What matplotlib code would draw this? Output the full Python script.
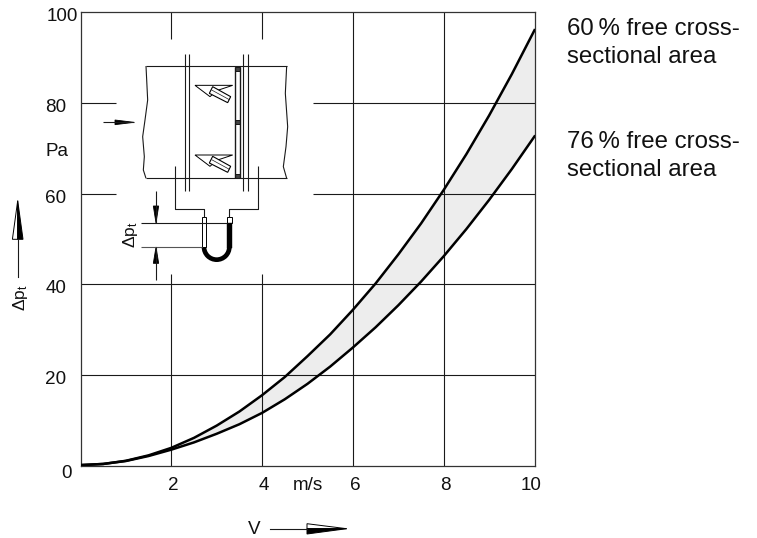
import matplotlib
matplotlib.use("Agg")
import matplotlib.pyplot as plt
from matplotlib.patches import Polygon, Rectangle, Wedge
from matplotlib.transforms import ScaledTranslation

plt.rcParams['font.family'] = ['Liberation Sans', 'DejaVu Sans']

velocity = [0, 0.5, 1, 1.5, 2, 2.5, 3, 3.5, 4, 4.5, 5, 5.5, 6, 6.5, 7, 7.5, 8, 8.5, 9, 9.5, 10]
dp_60 = [0.2, 0.45, 1.15, 2.35, 4, 6.2, 8.9, 12, 15.6, 19.6, 24.2, 29, 34.4, 40.2, 46.6, 53.4, 60.8, 68.7, 77.2, 86.3, 96]
dp_76 = [0.2, 0.45, 1.1, 2.2, 3.6, 5.2, 7.1, 9.2, 11.7, 14.7, 18.1, 21.9, 26.1, 30.55, 35.4, 40.6, 46.2, 52.2, 58.6, 65.4, 72.6]

x_ticks = [2, 4, 6, 8, 10]
y_ticks = [20, 40, 60, 80, 100]
label_60 = "60\u2009% free cross-\nsectional area"
label_76 = "76\u2009% free cross-\nsectional area"

W, H = 757, 538
DARK = '#1a1a1a'
TEXT = '#111111'
FS = 13.6

fig = plt.figure(figsize=(W / 100, H / 100), dpi=100)
ax = fig.add_axes([80.5 / W, 1 - 466 / H, 454 / W, 454 / H])
ax.set_xlim(0, 10)
ax.set_ylim(0, 100)

ax.fill_between(velocity, dp_76, dp_60, color='#ededed', lw=0, zorder=1)

# grid is broken around the damper sketch
for v in x_ticks[:2]:
    ax.vlines(v, 0, 42.3, color=DARK, lw=0.8, zorder=2)
    ax.vlines(v, 94, 100, color=DARK, lw=0.8, zorder=2)
for v in x_ticks[2:4]:
    ax.vlines(v, 0, 100, color=DARK, lw=0.8, zorder=2)
for v in y_ticks[:2]:
    ax.hlines(v, 0, 10, color=DARK, lw=0.8, zorder=2)
for v in y_ticks[2:4]:
    ax.hlines(v, 0, 0.78, color=DARK, lw=0.8, zorder=2)
    ax.hlines(v, 5.12, 10, color=DARK, lw=0.8, zorder=2)

ax.plot(velocity, dp_60, color='black', lw=1.8, zorder=3)
ax.plot(velocity, dp_76, color='black', lw=1.8, zorder=3)

for s in ax.spines.values():
    s.set_linewidth(0.9)
    s.set_color('#333333')

ax.set_xticks(x_ticks)
ax.set_yticks(y_ticks)
ax.tick_params(length=0, labelsize=FS, pad=0, colors=TEXT)
for lab, dx in zip(ax.get_xticklabels(), [2.5, 2, 2, 1.5, -3]):
    lab.set_transform(lab.get_transform() + ScaledTranslation(dx / 100, -10.5 / 100, fig.dpi_scale_trans))
for lab, dx in zip(ax.get_yticklabels(), [-14, -14, -14, -14, -3]):
    lab.set_transform(lab.get_transform() + ScaledTranslation(dx / 100, -2.5 / 100, fig.dpi_scale_trans))

# overlay in pixel coordinates for labels and the sketch
ov = fig.add_axes([0, 0, 1, 1])
ov.set_xlim(0, W)
ov.set_ylim(H, 0)
ov.axis('off')
ov.patch.set_alpha(0)

ov.text(66, 473, '0', fontsize=FS, ha='center', va='center', color=TEXT)
ov.text(308, 485.5, 'm/s', fontsize=FS, ha='center', va='center', color=TEXT)
ov.text(57, 152, 'Pa', fontsize=FS, ha='center', va='center', color=TEXT)
ov.text(567, 43, label_60, fontsize=17.3, ha='left', va='center', linespacing=1.4, color=TEXT)
ov.text(567, 156, label_76, fontsize=17.3, ha='left', va='center', linespacing=1.4, color=TEXT)


def zx(x):
    return 60 + x / 3


def zy(y):
    return y / 3


def line(xs, ys, lw=0.8, color=DARK):
    ov.plot([zx(x) for x in xs], [zy(y) for y in ys], color=color, lw=lw, solid_capstyle='butt')


def poly(points, fc, lw=0.6, ec='black'):
    ov.add_patch(Polygon([(zx(x), zy(y)) for x, y in points], closed=True, fc=fc, ec=ec, lw=lw))


# duct
line([258, 680], [198, 198])
line([258, 680], [535, 535])
line([258, 263, 255, 248, 253, 250, 258], [198, 300, 360, 410, 470, 510, 535])
line([680, 676, 683, 678, 670, 680], [198, 280, 380, 440, 500, 535])

# flanges
for fx in [375, 388, 550, 564]:
    line([fx, fx], [162, 573])

# damper frame
line([524, 524], [200, 535], lw=1.0)
line([541, 541], [200, 535], lw=1.0)
for by in [207, 367, 527]:
    poly([(525, by - 6), (540, by - 6), (540, by + 6), (525, by + 6)], '#444444')

# blades
for oy in [0, 209]:
    poly([(405, 256 + oy), (518, 256 + oy), (470, 272 + oy), (450, 290 + oy)], 'white', lw=0.7)
    poly([(458, 260 + oy), (512, 290 + oy), (503, 308 + oy), (448, 280 + oy)], 'white', lw=0.8)
    line([455, 508], [270 + oy, 299 + oy], lw=0.5)

# pressure tubes
line([346, 346, 432, 432], [498, 628, 628, 652])
line([593, 593, 507, 507], [498, 628, 628, 652])

# U-tube
ov.add_patch(Wedge((zx(470), zy(741)), 45 / 3, 0, 180, width=14 / 3, fc='black', ec='none'))
ov.add_patch(Rectangle((zx(425), zy(652)), 14 / 3, 90 / 3, fc='white', ec='black', lw=0.7))
ov.add_patch(Rectangle((zx(500), zy(652)), 15 / 3, 16 / 3, fc='white', ec='black', lw=0.7))
ov.add_patch(Rectangle((zx(501), zy(668)), 14 / 3, 75 / 3, fc='black', ec='black', lw=0.3))

# dimension lines with the pressure drop label
line([243, 500], [669, 669])
line([243, 425], [741, 741], color='#555555')
line([288, 288], [572, 669])
line([288, 288], [741, 840])
poly([(280, 618), (296, 618), (288, 669)], 'black')
poly([(280, 790), (296, 790), (288, 741)], 'black')
ov.text(zx(210), zy(705), r'$\mathregular{\Delta p_t}$', fontsize=12.5, rotation=90,
        ha='center', va='center', color=TEXT)

# flow arrow
line([130, 222], [367, 367])
poly([(165, 360), (222, 367), (165, 374)], 'black')

# axis arrows, half open half filled
ov.plot([17.7, 17.7], [276.7, 239], color=DARK, lw=0.8)
ov.add_patch(Polygon([(17.7, 200.7), (12.4, 239.3), (17.7, 239.3)], fc='white', ec='black', lw=0.7))
ov.add_patch(Polygon([(17.7, 200.7), (23, 239.3), (17.7, 239.3)], fc='black', ec='black', lw=0.7))
ov.text(20, 298, r'$\mathregular{\Delta p_t}$', fontsize=12.5, rotation=90, ha='center', va='center', color=TEXT)

ov.text(254, 529, 'V', fontsize=FS, ha='center', va='center', color=TEXT)
ov.plot([270, 307], [528.7, 528.7], color=DARK, lw=0.8)
ov.add_patch(Polygon([(346.7, 528.7), (307, 523.7), (307, 528.7)], fc='white', ec='black', lw=0.7))
ov.add_patch(Polygon([(346.7, 528.7), (307, 534), (307, 528.7)], fc='black', ec='black', lw=0.7))

fig.savefig('out.png', dpi=100)
